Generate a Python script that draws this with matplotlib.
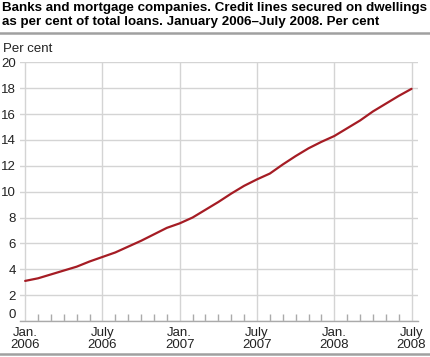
import matplotlib
matplotlib.use("Agg")
import matplotlib.pyplot as plt
from matplotlib.lines import Line2D
import numpy as np

# monthly values, Jan 2006 - July 2008
months = list(range(31))
values = [3.1, 3.3, 3.6, 3.9, 4.2, 4.6, 4.95, 5.3, 5.75, 6.2, 6.7, 7.2,
          7.55, 8.0, 8.6, 9.2, 9.85, 10.45, 10.95, 11.4, 12.1, 12.75, 13.35, 13.85,
          14.3, 14.9, 15.5, 16.2, 16.8, 17.4, 17.95]
tick_pos = [0, 6, 12, 18, 24, 30]
tick_labels = ["Jan.\n2006", "July\n2006", "Jan.\n2007", "July\n2007", "Jan.\n2008", "July\n2008"]
y_ticks = list(range(0, 21, 2))

plt.rcParams["font.family"] = ["Liberation Sans", "DejaVu Sans"]
W, H = 430, 357
fig = plt.figure(figsize=(W / 100, H / 100), dpi=100)
ax = fig.add_axes([20 / W, 1 - 321 / H, (418 - 20) / W, (321 - 62.3) / H])

grid_c = "#d4d4d4"
ax.plot(months, values, color="#a51c24", lw=1.6, zorder=5, solid_capstyle="round")

ax.set_xlim(-0.4, 30.5)
ax.set_ylim(0, 20)
ax.set_yticks(y_ticks)
ax.set_xticks(tick_pos)
ax.set_xticklabels(tick_labels, fontsize=9.5, linespacing=1.0)
ax.set_xticks(months, minor=True)
ax.grid(True, color=grid_c, lw=1.0)
ax.set_axisbelow(True)
ax.tick_params(axis="y", length=0, pad=3, labelsize=9.5, colors="#222222")
ax.tick_params(axis="x", which="major", length=0, pad=4, labelsize=9.5, colors="#222222")
ax.tick_params(axis="x", which="minor", direction="in", length=5, color="#aaaaaa", width=1)
ax.get_yticklabels()[0].set_va("bottom")
for s in ["top", "right", "left"]:
    ax.spines[s].set_visible(False)
ax.spines["bottom"].set_color("#aaaaaa")
ax.spines["bottom"].set_linewidth(1.0)

fig.text(2 / W, 1 - 2 / H,
         "Banks and mortgage companies. Credit lines secured on dwellings\n"
         "as per cent of total loans. January 2006\u2013July 2008. Per cent",
         fontsize=9.6, fontweight="bold", va="top", ha="left", linespacing=1.2)
fig.add_artist(Line2D([0, 1], [1 - 33 / H, 1 - 33 / H], color="#a0a0a0", lw=1.8))
fig.add_artist(Line2D([0, 1], [1 - 354 / H, 1 - 354 / H], color="#a0a0a0", lw=1.8))
fig.text(3 / W, 1 - 49 / H, "Per cent", fontsize=9.5, va="center", ha="left", color="#222222")

fig.savefig("out.png", dpi=100)
